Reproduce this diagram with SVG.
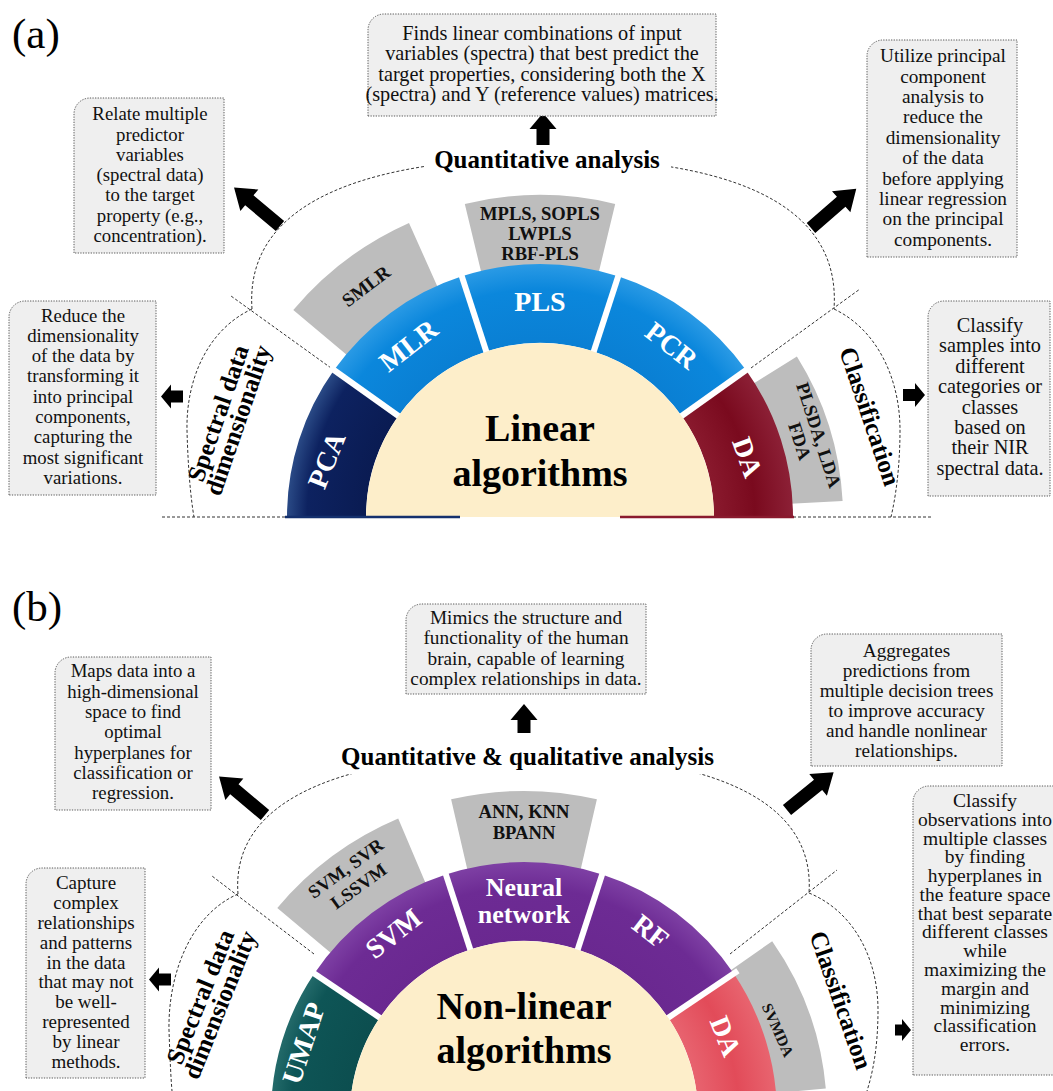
<svg xmlns="http://www.w3.org/2000/svg" xmlns:xlink="http://www.w3.org/1999/xlink" width="1053" height="1091" viewBox="0 0 1053 1091">
  <style>
    .box { fill:#efefef; stroke:#5a5a5a; stroke-width:1; stroke-dasharray:1.3 1.3; }
    .bt { font-family:"Liberation Serif","Times New Roman",serif; font-size:18.8px; fill:#111; text-anchor:middle; }
    .bt2 { font-family:"Liberation Serif","Times New Roman",serif; font-size:19.5px; fill:#111; text-anchor:middle; }
    .seg { font-family:"Liberation Serif","Times New Roman",serif; font-weight:bold; font-size:28px; fill:#fff; text-anchor:middle; }
    .gl { font-family:"Liberation Serif","Times New Roman",serif; font-weight:bold; font-size:18.6px; fill:#111; text-anchor:middle; }
    .cat { font-family:"Liberation Serif","Times New Roman",serif; font-weight:bold; font-size:25px; fill:#000; text-anchor:middle; }
    .head { font-family:"Liberation Serif","Times New Roman",serif; font-weight:bold; font-size:25px; fill:#000; text-anchor:middle; }
    .core { font-family:"Liberation Serif","Times New Roman",serif; font-weight:bold; font-size:38px; fill:#000; text-anchor:middle; }
    .panel { font-family:"Liberation Serif","Times New Roman",serif; font-size:43px; fill:#000; }
    .dash { fill:none; stroke:#333; stroke-width:1; stroke-dasharray:3 2; }
    .sep { stroke:#fff; stroke-width:6; }
    .gray { fill:#bdbdbd; }
    .cream { fill:#fdeeca; }
    .arrow { fill:#000; }
  </style>
  <defs>
    <radialGradient id="gBlueA" gradientUnits="userSpaceOnUse" cx="540" cy="517" r="253">
      <stop offset="0.68" stop-color="#0a7fd3"/>
      <stop offset="0.9" stop-color="#0b87dc"/>
      <stop offset="1" stop-color="#2a9ae5"/>
    </radialGradient>
    <radialGradient id="gNavy" gradientUnits="userSpaceOnUse" cx="540" cy="517" r="253">
      <stop offset="0.68" stop-color="#0a1b52"/>
      <stop offset="0.92" stop-color="#0d2260"/>
      <stop offset="1" stop-color="#2a4a86"/>
    </radialGradient>
    <radialGradient id="gMaroon" gradientUnits="userSpaceOnUse" cx="540" cy="517" r="253">
      <stop offset="0.68" stop-color="#8a1a2e"/>
      <stop offset="0.85" stop-color="#7a0a1e"/>
      <stop offset="1" stop-color="#8c2036"/>
    </radialGradient>
    <radialGradient id="gPurple" gradientUnits="userSpaceOnUse" cx="524" cy="1115" r="253">
      <stop offset="0.68" stop-color="#6a2890"/>
      <stop offset="0.9" stop-color="#6d2b94"/>
      <stop offset="1" stop-color="#7e40a4"/>
    </radialGradient>
    <radialGradient id="gTeal" gradientUnits="userSpaceOnUse" cx="524" cy="1115" r="253">
      <stop offset="0.68" stop-color="#0c4e4f"/>
      <stop offset="0.92" stop-color="#0e5556"/>
      <stop offset="1" stop-color="#236a6a"/>
    </radialGradient>
    <radialGradient id="gRed" gradientUnits="userSpaceOnUse" cx="524" cy="1115" r="253">
      <stop offset="0.68" stop-color="#e86470"/>
      <stop offset="0.85" stop-color="#e24b59"/>
      <stop offset="1" stop-color="#e8646f"/>
    </radialGradient>
    <path id="bigArrow" d="M0,-6.5 H40 V-14 L60,0 L40,14 V6.5 H0 Z"/>
  </defs>

  <rect width="1053" height="1091" fill="#fff"/>

  <!-- ================= panel (a) ================= -->
  <text class="panel" x="12" y="48">(a)</text>

  <g id="connectors-a">
    <!-- arc around the quantitative group -->
    <path class="dash" d="M252,309 C244,196 380,158 547,158 C714,158 842,196 834,309"/>
    <!-- spectral dimensionality lens -->
    <path class="dash" d="M252,309 C207,330 186,380 187,430 C188,470 191,500 194,517"/>
    <!-- classification lens -->
    <path class="dash" d="M834,309 C878,330 900,380 900,430 C900,470 895,500 891,517"/>
    <!-- radial dividers -->
    <line class="dash" x1="331" y1="368" x2="231" y2="296"/>
    <line class="dash" x1="751" y1="368" x2="860" y2="289"/>
    <!-- base line -->
    <line class="dash" x1="162" y1="517" x2="287" y2="517"/>
    <line class="dash" x1="793" y1="517" x2="931" y2="517"/>
    <!-- block arrows -->
    <use class="arrow" xlink:href="#bigArrow" transform="translate(280,226) rotate(-140)"/>
    <use class="arrow" xlink:href="#bigArrow" transform="translate(811,228) rotate(-41)"/>
    <path class="arrow" d="M536.5,145 V129 H529.5 L543,113 L556.5,129 H549.5 V145 Z"/>
    <path class="arrow" d="M161,396.5 L171,384.5 V390.5 H183 V402.5 H171 V408.5 Z"/>
    <path class="arrow" d="M925,395 L915,383 V389 H903 V401 H915 V407 Z"/>
  </g>

  <g id="label-quantitative-a">
    <rect x="425" y="146" width="246" height="31" fill="#fff"/>
    <text class="head" x="547" y="168">Quantitative analysis</text>
  </g>

  <!-- outer grey method wedges -->
  <g id="node-smlr">
    <path class="gray" d="M293.3,310 A322,322 0 0 1 409,222.9 L458.7,334.3 A200,200 0 0 0 386.8,388.4 Z"/>
    <text class="gl" transform="translate(366,286) rotate(-37)" y="6.5" style="font-size:19px">SMLR</text>
  </g>
  <g id="node-mpls">
    <path class="gray" d="M464.8,203.9 A322,322 0 0 1 615.2,203.9 L586.7,322.5 A200,200 0 0 0 493.3,322.5 Z"/>
    <text class="gl"><tspan x="540" y="220">MPLS, SOPLS</tspan><tspan x="540" y="240">LWPLS</tspan><tspan x="540" y="260">RBF-PLS</tspan></text>
  </g>
  <g id="node-plsda">
    <path class="gray" d="M796.9,356.4 A303,303 0 0 1 842.6,501.1 L739.7,506.5 A200,200 0 0 0 709.6,411 Z"/>
    <text class="gl" transform="translate(819,435) rotate(72)"><tspan x="0" y="6.5">PLSDA, LDA</tspan><tspan x="0" y="26.5">FDA</tspan></text>
  </g>

  <!-- ring of linear methods -->
  <g id="node-pca">
    <path fill="url(#gNavy)" d="M287,517 A253,253 0 0 1 334.03,370.08 L398.35,415.96 A174,174 0 0 0 366,517 Z"/>
    <text class="seg" transform="translate(326,460) rotate(-68)" y="10">PCA</text>
  </g>
  <g id="node-mlr">
    <path fill="url(#gBlueA)" d="M334.03,370.08 A253,253 0 0 1 461.82,276.37 L486.23,351.51 A174,174 0 0 0 398.35,415.96 Z"/>
    <text class="seg" transform="translate(408,345) rotate(-38)" y="10">MLR</text>
  </g>
  <g id="node-pls">
    <path fill="url(#gBlueA)" d="M461.82,276.37 A253,253 0 0 1 618.18,276.37 L593.77,351.51 A174,174 0 0 0 486.23,351.51 Z"/>
    <text class="seg" x="540" y="311">PLS</text>
  </g>
  <g id="node-pcr">
    <path fill="url(#gBlueA)" d="M618.18,276.37 A253,253 0 0 1 745.97,370.08 L681.65,415.96 A174,174 0 0 0 593.77,351.51 Z"/>
    <text class="seg" transform="translate(672,345) rotate(38)" y="10">PCR</text>
  </g>
  <g id="node-da-a">
    <path fill="url(#gMaroon)" d="M745.97,370.08 A253,253 0 0 1 793,517 L714,517 A174,174 0 0 0 681.65,415.96 Z"/>
    <text class="seg" transform="translate(748,457) rotate(70)" y="10">DA</text>
  </g>
  <g id="separators-a">
    <line class="sep" x1="401.6" y1="418.3" x2="330" y2="367.2"/>
    <line class="sep" x1="487.5" y1="355.3" x2="460.3" y2="271.6"/>
    <line class="sep" x1="592.5" y1="355.3" x2="619.7" y2="271.6"/>
    <line class="sep" x1="678.4" y1="418.3" x2="750" y2="367.2"/>
  </g>
  <g id="node-linear">
    <path class="cream" d="M366,517 A174,174 0 0 1 714,517 Z"/>
    <text class="core"><tspan x="540" y="441">Linear</tspan><tspan x="540" y="486">algorithms</tspan></text>
    <line x1="285" y1="517" x2="460" y2="517" stroke="#14306e" stroke-width="2.5"/>
    <line x1="620" y1="517" x2="794" y2="517" stroke="#8a1a2e" stroke-width="2.5"/>
  </g>

  <g id="label-spectral-a">
    <text class="cat" transform="translate(226,416) rotate(-71)"><tspan x="0" y="0">Spectral data</tspan><tspan x="0" y="21">dimensionality</tspan></text>
  </g>
  <g id="label-classification-a">
    <text class="cat" transform="translate(862,419) rotate(71.4)">Classification</text>
  </g>

  <!-- description boxes (a) -->
  <g id="box-pls-note">
    <path class="box" d="M368,116 V30 A16,16 0 0 1 384,14 H716 V116 Z"/>
    <text class="bt" style="font-size:20.3px"><tspan x="542" y="40">Finds linear combinations of input</tspan><tspan x="542" y="60.3">variables (spectra) that best predict the</tspan><tspan x="542" y="80.6">target properties, considering both the X</tspan><tspan x="542" y="100.9">(spectra) and Y (reference values) matrices.</tspan></text>
  </g>
  <g id="box-mlr-note">
    <path class="box" d="M74,253 V114 A16,16 0 0 1 90,98 H224 V253 Z"/>
    <text class="bt"><tspan x="150" y="120.3">Relate multiple</tspan><tspan x="150" y="140.5">predictor</tspan><tspan x="150" y="160.8">variables</tspan><tspan x="150" y="181.1">(spectral data)</tspan><tspan x="150" y="201.4">to the target</tspan><tspan x="150" y="221.7">property (e.g.,</tspan><tspan x="150" y="242">concentration).</tspan></text>
  </g>
  <g id="box-pcr-note">
    <path class="box" d="M867,257 V56 A16,16 0 0 1 883,40 H1017 V257 Z"/>
    <text class="bt" style="font-size:19.3px"><tspan x="943" y="62.1">Utilize principal</tspan><tspan x="943" y="82.5">component</tspan><tspan x="943" y="102.9">analysis to</tspan><tspan x="943" y="123.3">reduce the</tspan><tspan x="943" y="143.8">dimensionality</tspan><tspan x="943" y="164.2">of the data</tspan><tspan x="943" y="184.6">before applying</tspan><tspan x="943" y="205">linear regression</tspan><tspan x="943" y="225.4">on the principal</tspan><tspan x="943" y="245.8">components.</tspan></text>
  </g>
  <g id="box-pca-note">
    <path class="box" d="M9,495 V317 A16,16 0 0 1 25,301 H156 V495 Z"/>
    <text class="bt"><tspan x="83" y="321.5">Reduce the</tspan><tspan x="83" y="341.8">dimensionality</tspan><tspan x="83" y="362.1">of the data by</tspan><tspan x="83" y="382.4">transforming it</tspan><tspan x="83" y="402.6">into principal</tspan><tspan x="83" y="422.9">components,</tspan><tspan x="83" y="443.2">capturing the</tspan><tspan x="83" y="463.5">most significant</tspan><tspan x="83" y="483.8">variations.</tspan></text>
  </g>
  <g id="box-da-note-a">
    <path class="box" d="M928,496 V317 A16,16 0 0 1 944,301 H1050 V496 Z"/>
    <text class="bt" style="font-size:20.3px"><tspan x="990" y="332">Classify</tspan><tspan x="990" y="352.3">samples into</tspan><tspan x="990" y="372.7">different</tspan><tspan x="990" y="393.1">categories or</tspan><tspan x="990" y="413.6">classes</tspan><tspan x="990" y="434">based on</tspan><tspan x="990" y="454.4">their NIR</tspan><tspan x="990" y="474.8">spectral data.</tspan></text>
  </g>

  <!-- ================= panel (b) ================= -->
  <text class="panel" x="12" y="621">(b)</text>

  <g id="connectors-b">
    <path class="dash" d="M238,894 C230,790 365,754 527,754 C689,754 816,790 809,893"/>
    <path class="dash" d="M238,894 C190,915 168,975 169,1030 C170,1060 171,1080 172,1091"/>
    <path class="dash" d="M809,893 C855,912 878,960 878,1010 C878,1050 872,1075 867,1091"/>
    <line class="dash" x1="314" y1="954" x2="212" y2="876"/>
    <line class="dash" x1="730" y1="954" x2="837" y2="870"/>
    <use class="arrow" xlink:href="#bigArrow" transform="translate(265,815) rotate(-140)"/>
    <use class="arrow" xlink:href="#bigArrow" transform="translate(787,810) rotate(-39)"/>
    <path class="arrow" d="M517.5,733 V720 H510.5 L524,704 L537.5,720 H530.5 V733 Z"/>
    <path class="arrow" d="M149,979.5 L159,967.5 V973.5 H171 V985.5 H159 V991.5 Z"/>
    <path class="arrow" d="M911,1030 L902,1019 V1024.5 H895 V1035.5 H902 V1041 Z"/>
  </g>

  <g id="label-quantitative-b">
    <rect x="333" y="743" width="390" height="31" fill="#fff"/>
    <text class="head" x="527.5" y="765">Quantitative &amp; qualitative analysis</text>
  </g>

  <g id="node-svm-variants">
    <path class="gray" d="M277.3,908 A322,322 0 0 1 398.2,818.6 L445.9,930.9 A200,200 0 0 0 370.8,986.4 Z"/>
    <text class="gl" transform="translate(352,877) rotate(-36)"><tspan x="0" y="-4.5">SVM, SVR</tspan><tspan x="0" y="17.5">LSSVM</tspan></text>
  </g>
  <g id="node-ann-variants">
    <path class="gray" d="M451.1,799.3 A324,324 0 0 1 596.9,799.3 L569,920.1 A200,200 0 0 0 479,920.1 Z"/>
    <text class="gl"><tspan x="524" y="818">ANN, KNN</tspan><tspan x="524" y="838.5">BPANN</tspan></text>
  </g>
  <g id="node-svmda">
    <path class="gray" d="M772.2,941.2 A303,303 0 0 1 825.8,1088.6 L723.2,1097.6 A200,200 0 0 0 687.8,1000.3 Z"/>
    <text class="gl" transform="translate(778,1030) rotate(66)" y="5.5" style="font-size:15.5px">SVMDA</text>
  </g>

  <g id="node-umap">
    <path fill="url(#gTeal)" d="M271,1115 A253,253 0 0 1 314.3,973.5 L379.8,1017.7 A174,174 0 0 0 350,1115 Z"/>
    <text class="seg" transform="translate(303,1043) rotate(-72)" y="10">UMAP</text>
  </g>
  <g id="node-svm">
    <path fill="url(#gPurple)" d="M314.3,973.5 A253,253 0 0 1 445.8,874.4 L470.2,949.5 A174,174 0 0 0 379.8,1017.7 Z"/>
    <text class="seg" transform="translate(393,933) rotate(-38)" y="10">SVM</text>
  </g>
  <g id="node-neural-network">
    <path fill="url(#gPurple)" d="M445.8,874.4 A253,253 0 0 1 602.2,874.4 L577.8,949.5 A174,174 0 0 0 470.2,949.5 Z"/>
    <text class="seg" style="font-size:26px"><tspan x="524" y="896">Neural</tspan><tspan x="524" y="923">network</tspan></text>
  </g>
  <g id="node-rf">
    <path fill="url(#gPurple)" d="M602.2,874.4 A253,253 0 0 1 733.7,973.5 L668.2,1017.7 A174,174 0 0 0 577.8,949.5 Z"/>
    <text class="seg" transform="translate(651,931) rotate(38)" y="10">RF</text>
  </g>
  <g id="node-da-b">
    <path fill="url(#gRed)" d="M733.7,973.5 A253,253 0 0 1 777,1115 L698,1115 A174,174 0 0 0 668.2,1017.7 Z"/>
    <text class="seg" transform="translate(726,1036) rotate(68)" y="10">DA</text>
  </g>
  <g id="separators-b">
    <line class="sep" x1="383.1" y1="1019.9" x2="310.1" y2="970.7"/>
    <line class="sep" x1="471.5" y1="953.3" x2="444.3" y2="869.6"/>
    <line class="sep" x1="576.5" y1="953.3" x2="603.7" y2="869.6"/>
    <line class="sep" x1="664.9" y1="1019.9" x2="737.9" y2="970.7"/>
  </g>
  <g id="node-nonlinear">
    <path class="cream" d="M350,1115 A174,174 0 0 1 698,1115 Z"/>
    <text class="core"><tspan x="524" y="1019">Non-linear</tspan><tspan x="524" y="1063">algorithms</tspan></text>
  </g>

  <g id="label-spectral-b">
    <text class="cat" transform="translate(208,1000) rotate(-68)"><tspan x="0" y="0">Spectral data</tspan><tspan x="0" y="21">dimensionality</tspan></text>
  </g>
  <g id="label-classification-b">
    <text class="cat" transform="translate(833,1003) rotate(70.7)">Classification</text>
  </g>

  <!-- description boxes (b) -->
  <g id="box-nn-note">
    <path class="box" d="M406,694 V620 A16,16 0 0 1 422,604 H646 V694 Z"/>
    <text class="bt" style="font-size:19.3px"><tspan x="526" y="623.5">Mimics the structure and</tspan><tspan x="526" y="644">functionality of the human</tspan><tspan x="526" y="664.5">brain, capable of learning</tspan><tspan x="526" y="685">complex relationships in data.</tspan></text>
  </g>
  <g id="box-svm-note">
    <path class="box" d="M55,810 V673 A16,16 0 0 1 71,657 H211 V810 Z"/>
    <text class="bt"><tspan x="133" y="677">Maps data into a</tspan><tspan x="133" y="697.5">high-dimensional</tspan><tspan x="133" y="718">space to find</tspan><tspan x="133" y="738">optimal</tspan><tspan x="133" y="758.5">hyperplanes for</tspan><tspan x="133" y="778.5">classification or</tspan><tspan x="133" y="799">regression.</tspan></text>
  </g>
  <g id="box-rf-note">
    <path class="box" d="M811,766 V650 A16,16 0 0 1 827,634 H1002 V766 Z"/>
    <text class="bt" style="font-size:19.2px"><tspan x="906.5" y="657">Aggregates</tspan><tspan x="906.5" y="677">predictions from</tspan><tspan x="906.5" y="697">multiple decision trees</tspan><tspan x="906.5" y="717">to improve accuracy</tspan><tspan x="906.5" y="737">and handle nonlinear</tspan><tspan x="906.5" y="757">relationships.</tspan></text>
  </g>
  <g id="box-umap-note">
    <path class="box" d="M26,1078 V884 A16,16 0 0 1 42,868 H145 V1078 Z"/>
    <text class="bt" style="font-size:19px"><tspan x="86" y="888.5">Capture</tspan><tspan x="86" y="908.7">complex</tspan><tspan x="86" y="929">relationships</tspan><tspan x="86" y="948.6">and patterns</tspan><tspan x="86" y="968.5">in the data</tspan><tspan x="86" y="988">that may not</tspan><tspan x="86" y="1008.4">be well-</tspan><tspan x="86" y="1028">represented</tspan><tspan x="86" y="1048">by linear</tspan><tspan x="86" y="1067.6">methods.</tspan></text>
  </g>
  <g id="box-da-note-b">
    <path class="box" d="M913,1075 V802 A16,16 0 0 1 929,786 H1060 V1075 Z"/>
    <text class="bt2"><tspan x="985" y="807">Classify</tspan><tspan x="985" y="825.8">observations into</tspan><tspan x="985" y="844.5">multiple classes</tspan><tspan x="985" y="863.3">by finding</tspan><tspan x="985" y="882.1">hyperplanes in</tspan><tspan x="985" y="900.8">the feature space</tspan><tspan x="985" y="919.6">that best separate</tspan><tspan x="985" y="938.4">different classes</tspan><tspan x="985" y="957.2">while</tspan><tspan x="985" y="975.9">maximizing the</tspan><tspan x="985" y="994.7">margin and</tspan><tspan x="985" y="1013.5">minimizing</tspan><tspan x="985" y="1032.2">classification</tspan><tspan x="985" y="1051">errors.</tspan></text>
  </g>
</svg>
